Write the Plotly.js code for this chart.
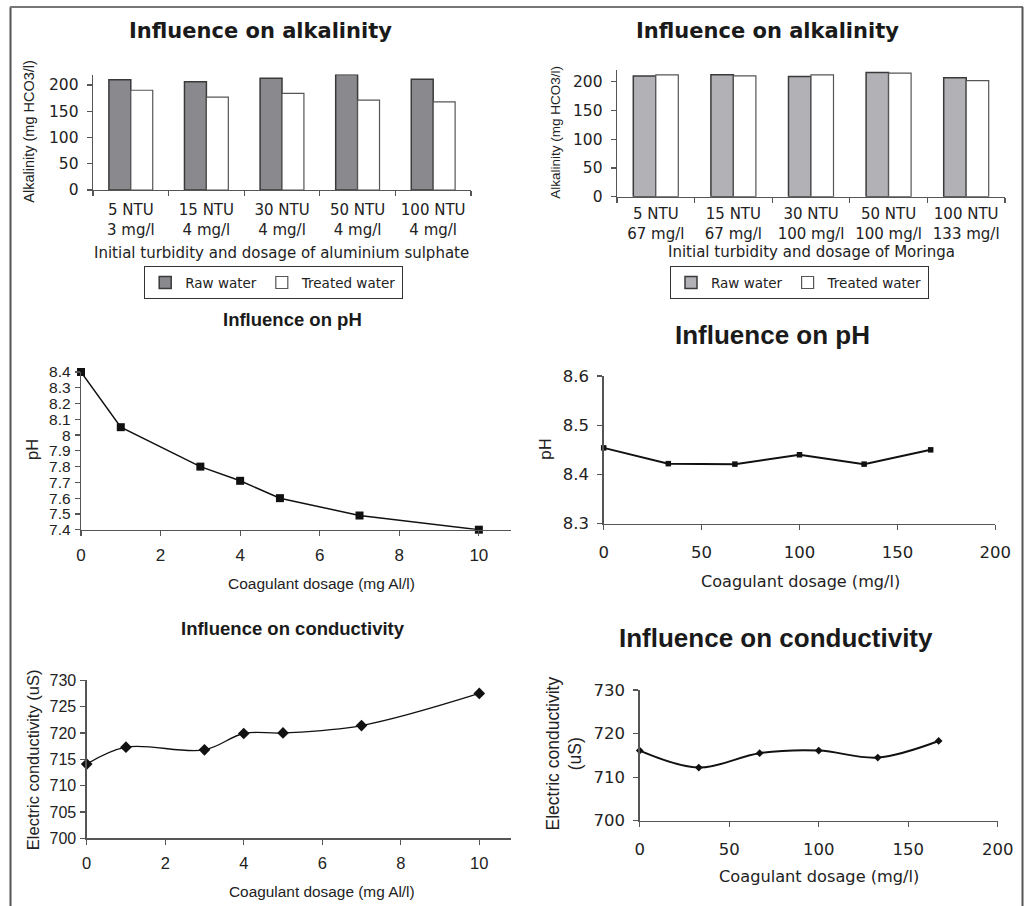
<!DOCTYPE html>
<html>
<head>
<meta charset="utf-8">
<script src="https://cdn.plot.ly/plotly-3.0.1.min.js"></script>
<style>html,body{margin:0;padding:0;background:#fff;}#chart{width:1024px;height:906px;}</style>
</head>
<body>
<div id="chart"></div>
<script>
// ---------- data ----------
const alumCategories = ["5 NTU<br>3 mg/l", "15 NTU<br>4 mg/l", "30 NTU<br>4 mg/l", "50 NTU<br>4 mg/l", "100 NTU<br>4 mg/l"];
const alumRaw = [210, 206, 213, 220, 211];
const alumTreated = [190, 177, 184, 171, 168];

const moringaCategories = ["5 NTU<br>67 mg/l", "15 NTU<br>67 mg/l", "30 NTU<br>100 mg/l", "50 NTU<br>100 mg/l", "100 NTU<br>133 mg/l"];
const moringaRaw = [210, 212, 209, 216, 207];
const moringaTreated = [212, 210, 212, 215, 202];

const alumDose = [0, 1, 3, 4, 5, 7, 10];
const alumPH = [8.4, 8.05, 7.8, 7.71, 7.6, 7.49, 7.4];
const alumCond = [714.1, 717.3, 716.8, 719.9, 720, 721.4, 727.5];

const moringaDose = [0, 33, 67, 100, 133, 167];
const moringaPH = [8.454, 8.422, 8.421, 8.44, 8.421, 8.45];
const moringaCond = [716.1, 712.2, 715.5, 716.1, 714.5, 718.3];

// ---------- helpers ----------
const W = 1024, H = 906;
const dx = (a, b) => [a / W, b / W];
const dy = (top, bottom) => [1 - bottom / H, 1 - top / H];
const px = a => a / W;
const py = b => 1 - b / H;

const DV = "DejaVu Sans";
const LS = "Liberation Sans, Arial";
const AX = "#555";
const TX = "#222";

function axisBase(extra) {
  return Object.assign({
    showline: true, linecolor: AX, linewidth: 1.3,
    ticks: "outside", ticklen: 5, tickcolor: AX, tickwidth: 1.2,
    showgrid: false, zeroline: false, fixedrange: true
  }, extra);
}

const traces = [
  {type: "bar", x: alumCategories, y: alumRaw, name: "Raw water", xaxis: "x", yaxis: "y", legend: "legend",
   marker: {color: "#8a8a8e", line: {color: "#3a3a3a", width: 1.5}}},
  {type: "bar", x: alumCategories, y: alumTreated, name: "Treated water", xaxis: "x", yaxis: "y", legend: "legend",
   marker: {color: "#ffffff", line: {color: "#555", width: 1.2}}},
  {type: "bar", x: moringaCategories, y: moringaRaw, name: "Raw water", xaxis: "x2", yaxis: "y2", legend: "legend2",
   marker: {color: "#b2b2b6", line: {color: "#3a3a3a", width: 1.5}}},
  {type: "bar", x: moringaCategories, y: moringaTreated, name: "Treated water", xaxis: "x2", yaxis: "y2", legend: "legend2",
   marker: {color: "#ffffff", line: {color: "#555", width: 1.2}}},
  {type: "scatter", mode: "lines+markers", x: alumDose, y: alumPH, xaxis: "x3", yaxis: "y3", showlegend: false, cliponaxis: false,
   line: {color: "#111", width: 1.5}, marker: {symbol: "square", size: 8, color: "#111"}},
  {type: "scatter", mode: "lines+markers", x: moringaDose, y: moringaPH, xaxis: "x4", yaxis: "y4", showlegend: false, cliponaxis: false,
   line: {color: "#111", width: 2}, marker: {symbol: "square", size: 5.5, color: "#111"}},
  {type: "scatter", mode: "lines+markers", x: alumDose, y: alumCond, xaxis: "x5", yaxis: "y5", showlegend: false, cliponaxis: false,
   line: {color: "#111", width: 1.3, shape: "spline", smoothing: 1}, marker: {symbol: "diamond", size: 9, color: "#111"}},
  {type: "scatter", mode: "lines+markers", x: moringaDose, y: moringaCond, xaxis: "x6", yaxis: "y6", showlegend: false, cliponaxis: false,
   line: {color: "#111", width: 2, shape: "spline", smoothing: 1}, marker: {symbol: "diamond", size: 6, color: "#111"}}
];

const fTopTickY = {family: DV, size: 15.5, color: TX};
const fTopTickX = {family: DV, size: 15, color: TX};

const layout = {
  width: W, height: H,
  margin: {l: 0, r: 0, t: 0, b: 0},
  paper_bgcolor: "#fff", plot_bgcolor: "rgba(0,0,0,0)",
  barmode: "group", bargap: 0.42, bargroupgap: 0,
  xaxis: axisBase({domain: dx(93, 471), anchor: "y", type: "category", tickson: "boundaries", tickfont: fTopTickX, ticklabelstandoff: 6}),
  yaxis: axisBase({domain: dy(74.5, 190), anchor: "x", range: [0, 220], tickvals: [0, 50, 100, 150, 200], tickfont: fTopTickY, ticklabelstandoff: 5}),
  xaxis2: axisBase({domain: dx(617, 1005), anchor: "y2", type: "category", tickson: "boundaries", tickfont: fTopTickX, ticklabelstandoff: 3}),
  yaxis2: axisBase({domain: dy(70.2, 196.7), anchor: "x2", range: [0, 220], tickvals: [0, 50, 100, 150, 200], tickfont: fTopTickY, ticklabelstandoff: 5}),
  xaxis3: axisBase({domain: dx(81, 510.7), anchor: "y3", range: [0, 10.8], tick0: 0, dtick: 2, tickfont: {family: LS, size: 17, color: TX}, ticklabelstandoff: 5}),
  yaxis3: axisBase({domain: dy(372, 529.7), anchor: "x3", range: [7.4, 8.4], tick0: 7.4, dtick: 0.1, tickfont: {family: LS, size: 15.5, color: TX}, ticklabelstandoff: 1}),
  xaxis4: axisBase({domain: dx(603.7, 995.3), anchor: "y4", range: [0, 200], tick0: 0, dtick: 50, tickfont: {family: DV, size: 16.5, color: TX}, ticklabelstandoff: 8}),
  yaxis4: axisBase({domain: dy(376, 523.7), anchor: "x4", range: [8.3, 8.6], tick0: 8.3, dtick: 0.1, tickfont: {family: DV, size: 16.5, color: TX}, ticklabelstandoff: 5}),
  xaxis5: axisBase({domain: dx(86.7, 510.7), anchor: "y5", range: [0, 10.8], tick0: 0, dtick: 2, tickfont: {family: LS, size: 16.5, color: TX}, ticklabelstandoff: 5}),
  yaxis5: axisBase({domain: dy(680.3, 838.3), anchor: "x5", range: [700, 730], tick0: 700, dtick: 5, tickfont: {family: LS, size: 16, color: TX}, ticklabelstandoff: 1}),
  xaxis6: axisBase({domain: dx(639.7, 997.7), anchor: "y6", range: [0, 200], tick0: 0, dtick: 50, tickfont: {family: DV, size: 16.5, color: TX}, ticklabelstandoff: 8}),
  yaxis6: axisBase({domain: dy(690, 820.7), anchor: "x6", range: [700, 730], tick0: 700, dtick: 10, tickfont: {family: DV, size: 16.5, color: TX}, ticklabelstandoff: 5}),
  legend: {x: px(273.5), y: py(266), xanchor: "center", yanchor: "top", orientation: "h",
           bordercolor: "#333", borderwidth: 1.2, bgcolor: "#fff", itemwidth: 30,
           font: {family: DV, size: 13.5, color: TX}, traceorder: "normal"},
  legend2: {x: px(799.3), y: py(266), xanchor: "center", yanchor: "top", orientation: "h",
           bordercolor: "#333", borderwidth: 1.2, bgcolor: "#fff", itemwidth: 30,
           font: {family: DV, size: 13.5, color: TX}, traceorder: "normal"},
  shapes: [
    {type: "line", xref: "paper", yref: "paper", x0: px(10.5), x1: px(10.5), y0: py(7), y1: 0, line: {color: "#555", width: 2}},
    {type: "line", xref: "paper", yref: "paper", x0: px(10), x1: px(1023), y0: py(7), y1: py(7), line: {color: "#777", width: 2}},
    {type: "line", xref: "paper", yref: "paper", x0: px(1022.5), x1: px(1022.5), y0: py(7), y1: 0, line: {color: "#555", width: 2}}
  ],
  annotations: []
};

function note(text, x, y, font, angle) {
  layout.annotations.push({text: text, xref: "paper", yref: "paper", x: px(x), y: py(y),
    xanchor: "center", yanchor: "middle", showarrow: false, textangle: angle || 0, font: font});
}
const bold = (fam, size) => ({family: fam, size: size, color: "#1a1a1a", weight: "bold"});
const reg = (fam, size) => ({family: fam, size: size, color: TX});

// chart titles
note("Influence on alkalinity", 260.8, 31.3, bold(DV, 21));
note("Influence on alkalinity", 767.8, 30.8, bold(DV, 21));
note("Influence on pH", 292.5, 319, bold(LS, 18.5));
note("Influence on pH", 772, 335, bold(LS, 26));
note("Influence on conductivity", 292.5, 628.3, bold(LS, 18.5));
note("Influence on conductivity", 776, 638.3, bold(LS, 26));

// axis titles
note("Initial turbidity and dosage of aluminium sulphate", 281.5, 253.3, reg(DV, 15));
note("Alkalinity (mg HCO3/l)", 29, 131.7, reg(LS, 14.5), -90);
note("Initial turbidity and dosage of Moringa", 811, 251.5, reg(DV, 15));
note("Alkalinity (mg HCO3/l)", 555.3, 132.5, reg(LS, 13.5), -90);
note("Coagulant dosage (mg Al/l)", 321, 583, reg(LS, 15.5));
note("pH", 32, 450, reg(LS, 16.5), -90);
note("Coagulant dosage (mg/l)", 800, 581, reg(DV, 16.1));
note("pH", 545.3, 449, reg(DV, 16), -90);
note("Coagulant dosage (mg Al/l)", 321.7, 891.7, reg(LS, 15.4));
note("Electric conductivity (uS)", 32.5, 759.7, reg(LS, 16.5), -90);
note("Coagulant dosage (mg/l)", 819.3, 876.7, reg(DV, 16.2));
note("Electric conductivity<br>(uS)", 563.5, 754, reg(LS, 17.5), -90);

Plotly.newPlot("chart", traces, layout, {staticPlot: true, displayModeBar: false});
</script>
</body>
</html>
